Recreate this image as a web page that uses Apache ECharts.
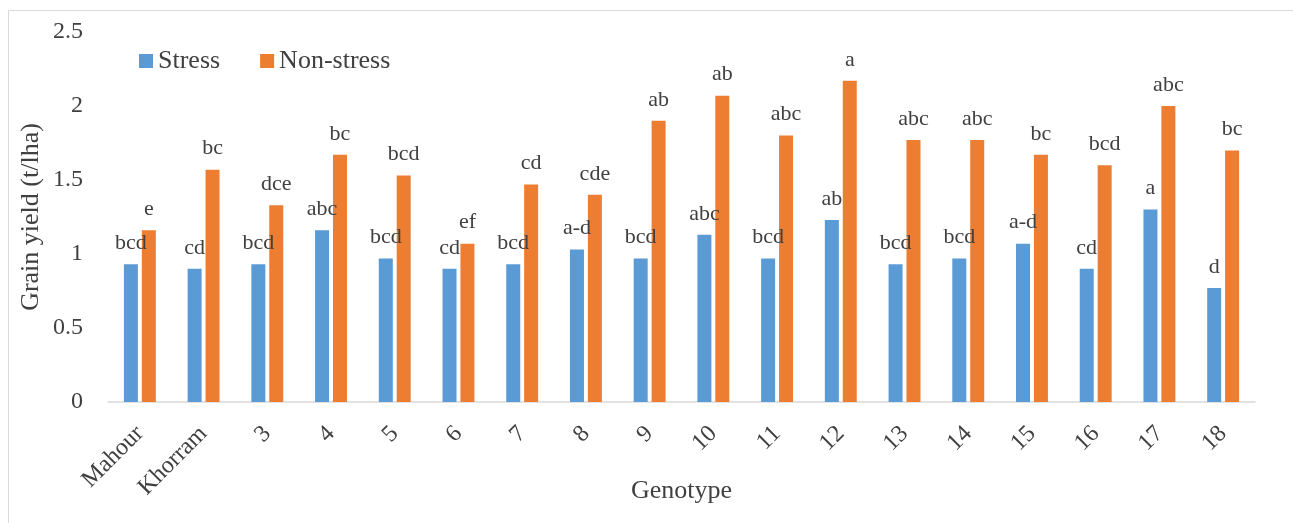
<!DOCTYPE html>
<html><head><meta charset="utf-8">
<script src="https://cdn.jsdelivr.net/npm/echarts@6/dist/echarts.min.js"></script>
<style>html,body{margin:0;padding:0;background:#fff}#c{width:1293px;height:523px}</style>
</head><body><div id="c"></div>
<script>
const categories = ['Mahour','Khorram','3','4','5','6','7','8','9','10','11','12','13','14','15','16','17','18'];
const stress = [0.93,0.90,0.93,1.16,0.97,0.90,0.93,1.03,0.97,1.13,0.97,1.23,0.93,0.97,1.07,0.90,1.30,0.77];
const nonStress = [1.16,1.57,1.33,1.67,1.53,1.07,1.47,1.40,1.90,2.07,1.80,2.17,1.77,1.77,1.67,1.60,2.00,1.70];
const stressLetters = ['bcd','cd','bcd','abc','bcd','cd','bcd','a-d','bcd','abc','bcd','ab','bcd','bcd','a-d','cd','a','d'];
const nonStressLetters = ['e','bc','dce','bc','bcd','ef','cd','cde','ab','ab','abc','a','abc','abc','bc','bcd','abc','bc'];
const yTicks = [0,0.5,1,1.5,2,2.5];

const font = '"Liberation Serif","Times New Roman",serif';
const txt = '#404040';
const chart = echarts.init(document.getElementById('c'));
chart.setOption({
  animation:false,
  textStyle:{fontFamily:font},
  graphic:[{type:'rect',shape:{x:8.5,y:10.5,width:1300,height:520},style:{fill:'none',stroke:'#D9D9D9',lineWidth:1},silent:true}],
  legend:{left:134,top:43,itemWidth:14,itemHeight:14,itemGap:40,icon:'rect',
    textStyle:{fontFamily:font,fontSize:26,color:txt},data:['Stress','Non-stress']},
  grid:{left:108,right:38,top:32,bottom:121,containLabel:false,outerBoundsMode:'none'},
  xAxis:{type:'category',data:categories,name:'Genotype',nameLocation:'middle',nameGap:76,nameMoveOverlap:false,
    nameTextStyle:{fontFamily:font,fontSize:26,color:txt},
    axisLine:{lineStyle:{color:'#D9D9D9',width:1.5}},axisTick:{show:false},
    axisLabel:{rotate:45,fontFamily:font,fontSize:24,color:txt,margin:28,interval:0}},
  yAxis:{type:'value',min:0,max:2.5,interval:0.5,name:'Grain yield (t/lha)',nameLocation:'middle',nameGap:64,nameMoveOverlap:false,
    nameTextStyle:{fontFamily:font,fontSize:26,color:txt},
    axisLine:{show:false},axisTick:{show:false},splitLine:{show:false},
    axisLabel:{fontFamily:font,fontSize:24,color:txt,margin:25,
      formatter:v=>yTicks.indexOf(v)>=0?String(v):''}},
  series:[
    {name:'Stress',type:'bar',data:stress,barWidth:14,barGap:'28%',itemStyle:{color:'#5B9BD5'},
     label:{show:true,position:'top',distance:10,fontFamily:font,fontSize:22,color:txt,
       formatter:p=>stressLetters[p.dataIndex]}},
    {name:'Non-stress',type:'bar',data:nonStress,barWidth:14,itemStyle:{color:'#ED7D31'},
     label:{show:true,position:'top',distance:10,fontFamily:font,fontSize:22,color:txt,
       formatter:p=>nonStressLetters[p.dataIndex]}}
  ]
});
</script></body></html>
